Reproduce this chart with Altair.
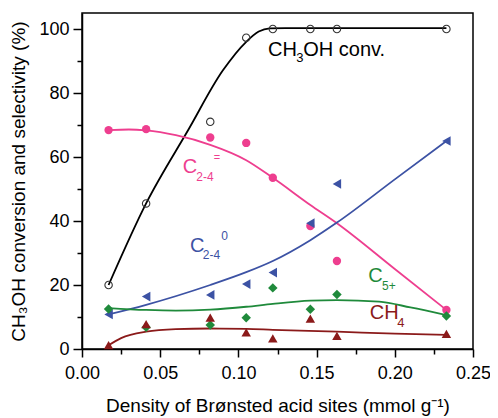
import altair as alt
import pandas as pd

# ---- data ----
x_pts = [0.017, 0.041, 0.082, 0.105, 0.122, 0.146, 0.163, 0.233]
conv = [20.0, 45.5, 71.0, 97.3, 100.0, 100.0, 100.0, 100.0]
c24_ene = [68.4, 68.7, 66.1, 64.4, 53.5, 38.4, 27.5, 12.2]
c24_ane = [10.8, 16.4, 16.9, 20.3, 23.9, 39.3, 51.6, 65.0]
c5p = [12.5, 6.8, 7.5, 9.8, 19.1, 12.4, 17.0, 10.3]
ch4 = [1.2, 7.8, 9.8, 5.2, 3.3, 9.5, 4.1, 4.7]

# fitted curves
conv_fx = [0.017, 0.041, 0.068, 0.090, 0.105, 0.113, 0.120, 0.130, 0.233]
conv_fy = [20.0, 45.5, 68.5, 87.0, 96.0, 99.2, 100.2, 100.3, 100.3]
ene_fx = [0.017, 0.030, 0.041, 0.060, 0.082, 0.105, 0.122, 0.146, 0.163, 0.200, 0.233]
ene_fy = [68.4, 68.6, 68.3, 66.8, 63.8, 59.0, 53.5, 45.0, 39.3, 25.0, 12.2]
ane_fx = [0.017, 0.041, 0.082, 0.105, 0.122, 0.146, 0.163, 0.200, 0.233]
ane_fy = [10.8, 13.8, 20.0, 24.0, 27.5, 34.0, 39.5, 53.0, 65.0]
c5_fx = [0.017, 0.041, 0.060, 0.082, 0.105, 0.122, 0.146, 0.163, 0.190, 0.210, 0.233]
c5_fy = [12.8, 12.2, 12.0, 12.3, 13.2, 14.1, 15.1, 15.3, 14.8, 13.0, 10.6]
ch4_fx = [0.017, 0.025, 0.041, 0.060, 0.082, 0.105, 0.122, 0.163, 0.200, 0.233]
ch4_fy = [1.2, 3.4, 5.4, 6.2, 6.4, 6.3, 6.0, 5.4, 4.8, 4.4]

# annotation labels
lab_text = ["CH", "3", "OH conv.", "C", "2-4", "=", "C", "2-4", "0", "C", "5+", "CH", "4"]
lab_x = [0.119, 0.137, 0.1415, 0.0644, 0.0731, 0.0842, 0.0691, 0.0772, 0.0891, 0.183, 0.1918, 0.184, 0.2016]
lab_y = [91.6, 89.7, 91.6, 54.9, 52.5, 58.7, 30.4, 28.1, 34.1, 21.0, 18.4, 9.3, 6.8]
lab_size = [20, 13, 20, 20, 12, 11, 20, 12, 12, 20, 12, 20, 13]

BLACK = "#000000"
PINK = "#EE3E8F"
BLUE = "#3C52A4"
GREEN = "#1F8A3B"
BROWN = "#8B1A1A"
lab_color = [BLACK, BLACK, BLACK, PINK, PINK, PINK, BLUE, BLUE, BLUE, GREEN, GREEN, BROWN, BROWN]

FONT = "Liberation Sans"

xscale = alt.Scale(domain=[0, 0.25], nice=False)
yscale = alt.Scale(domain=[0, 105], nice=False)

xaxis = alt.Axis(
    values=[i * 0.025 for i in range(11)],
    labelExpr="round(datum.value*40) % 2 === 0 ? format(datum.value, '.2f') : ''",
    tickSize={"condition": {"test": "round(datum.value*40) % 2 === 0", "value": 8}, "value": 5},
    title="Density of Brønsted acid sites (mmol g⁻¹)",
    labelFontSize=18, titleFontSize=19, labelPadding=7, titlePadding=14,
    grid=False, domainColor="black", domainWidth=1.5, tickColor="black", tickWidth=1.5,
    labelColor="black", titleColor="black", labelFont=FONT, titleFont=FONT,
    titleFontWeight="normal", labelFlush=False, labelOverlap=False,
)
yaxis = alt.Axis(
    values=list(range(0, 101, 10)),
    labelExpr="datum.value % 20 === 0 ? '' + datum.value : ''",
    tickSize={"condition": {"test": "datum.value % 20 === 0", "value": 9}, "value": 5},
    title="CH₃OH conversion and selectivity (%)",
    labelFontSize=18, titleFontSize=19, labelPadding=4, titlePadding=10,
    grid=False, domainColor="black", domainWidth=1.5, tickColor="black", tickWidth=1.5,
    labelColor="black", titleColor="black", labelFont=FONT, titleFont=FONT,
    titleFontWeight="normal", labelFlush=False, labelOverlap=False,
)


def curve(fx, fy, color):
    df = pd.DataFrame({"x": fx, "y": fy})
    return alt.Chart(df).mark_line(color=color, strokeWidth=1.8, interpolate="monotone")


def points(ys, color, shape, size, filled=True):
    df = pd.DataFrame({"x": x_pts, "y": ys})
    if filled:
        return alt.Chart(df).mark_point(shape=shape, size=size, filled=True, color=color, opacity=1)
    return alt.Chart(df).mark_point(shape=shape, size=size, filled=False, color="#333333",
                                    strokeWidth=1.1, opacity=1)


labels_df = pd.DataFrame({"x": lab_x, "y": lab_y, "t": lab_text, "c": lab_color, "s": lab_size})
labels = alt.Chart(labels_df).mark_text(align="left", baseline="alphabetic", font=FONT).encode(
    text="t:N",
    color=alt.Color("c:N", scale=None),
    size=alt.Size("s:Q", scale=None),
)

chart = alt.layer(
    curve(conv_fx, conv_fy, BLACK),
    curve(ene_fx, ene_fy, PINK),
    curve(ane_fx, ane_fy, BLUE),
    curve(c5_fx, c5_fy, GREEN),
    curve(ch4_fx, ch4_fy, BROWN),
    points(conv, BLACK, "circle", 55, filled=False),
    points(c24_ene, PINK, "circle", 70),
    points(c24_ane, BLUE, "triangle-left", 95),
    points(c5p, GREEN, "diamond", 90),
    points(ch4, BROWN, "triangle-up", 90),
    labels,
).encode(
    x=alt.X("x:Q", scale=xscale, axis=xaxis),
    y=alt.Y("y:Q", scale=yscale, axis=yaxis),
).properties(
    width=391, height=336,
    padding={"left": 74, "top": 5, "right": 17, "bottom": 70},
    autosize=alt.AutoSizeParams(type="none"),
    background="white",
).configure_view(stroke="black", strokeWidth=1.5)

chart.save("out.html", embed_options={"renderer": "svg", "actions": False})
